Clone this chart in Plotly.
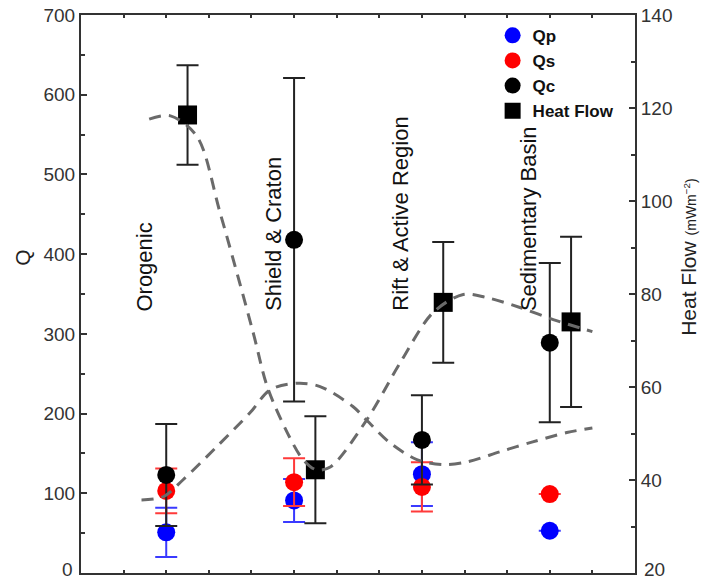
import plotly.graph_objects as go

NAN = float("nan")

# Category positions (x on a 0-13 axis)
regions = ["Orogenic", "Shield & Craton", "Rift & Active Region", "Sedimentary Basin"]
q_x = [2, 5, 8, 11]
hf_x = [2.5, 5.5, 8.5, 11.5]
label_x = [1.5, 4.5, 7.5, 10.5]
label_y = 326

# Q values and errors
qp = [51, 91, 124, 53]
qp_err = [31, 27, 40, NAN]
qs = [103, 114, 108, 99]
qs_err = [28, 30, 31, NAN]
qc = [123, 418, 167, 289]
qc_err = [64, 203, 56, 100]

# Heat flow values and errors (mW m^-2)
hf = [118.5, 42.2, 78.2, 74.0]
hf_err = [10.7, 11.5, 13.0, 18.3]

# Dashed trend curves, heat-flow axis units
curveA_x = [1.6, 2.1, 2.72, 3.26, 4.04, 4.37, 4.84, 5.21, 5.52, 5.85, 6.71, 7.49, 8.26, 8.97, 9.53, 10.3, 11.08, 12.0]
curveA_y = [117.6, 118.3, 113.9, 97.6, 71.7, 60.1, 50.2, 44.4, 42.2, 42.8, 53.0, 65.2, 76.0, 79.9, 79.2, 77.1, 74.5, 71.9]
curveB_x = [1.42, 1.93, 2.39, 3.19, 3.97, 4.44, 5.07, 5.61, 6.38, 6.71, 7.25, 7.88, 8.5, 9.06, 9.84, 10.6, 11.4, 12.0]
curveB_y = [35.7, 36.4, 40.0, 47.2, 54.5, 59.4, 60.8, 60.1, 55.8, 52.8, 48.0, 44.4, 43.3, 43.9, 46.1, 48.2, 50.2, 51.2]

FONT = "Liberation Sans, Arial, Helvetica, sans-serif"
AX = "#333333"

fig = go.Figure()

def err(vals, color):
    return dict(type="data", array=vals, visible=True, color=color, thickness=2, width=11)

fig.add_trace(go.Scatter(x=q_x, y=qp, mode="markers", name="Qp",
                         marker=dict(color="#0000ff", size=18, symbol="circle"),
                         error_y=err(qp_err, "#3a3aff")))
fig.add_trace(go.Scatter(x=q_x, y=qs, mode="markers", name="Qs",
                         marker=dict(color="#ff0000", size=18, symbol="circle"),
                         error_y=err(qs_err, "#ff3a3a")))
fig.add_trace(go.Scatter(x=q_x, y=qc, mode="markers", name="Qc",
                         marker=dict(color="#000000", size=18, symbol="circle"),
                         error_y=err(qc_err, "#222222")))
fig.add_trace(go.Scatter(x=hf_x, y=hf, mode="markers", name="Heat Flow", yaxis="y2",
                         marker=dict(color="#000000", size=19, symbol="square"),
                         error_y=err(hf_err, "#222222")))

for cx, cy in ((curveA_x, curveA_y), (curveB_x, curveB_y)):
    fig.add_trace(go.Scatter(x=cx, y=cy, mode="lines", yaxis="y2", showlegend=False,
                             line=dict(color="#6a6a6a", width=3, dash="12px,8px",
                                       shape="spline", smoothing=0.9),
                             hoverinfo="skip"))

annotations = []
for name, lx in zip(regions, label_x):
    annotations.append(dict(x=lx, y=label_y, xref="x", yref="y", text=name,
                            textangle=-90, showarrow=False, xanchor="center",
                            yanchor="bottom", font=dict(family=FONT, size=22, color="#111")))
annotations.append(dict(x=-0.13, y=0.566, xref="paper", yref="paper", text="Q",
                        showarrow=False, textangle=-90,
                        font=dict(family=FONT, size=21, color="#222")))
annotations.append(dict(x=1.122, y=0.565, xref="paper", yref="paper",
                        text="Heat Flow <span style='font-size:14px'>(mWm<sup>−2</sup>)</span>",
                        showarrow=False, textangle=-90,
                        font=dict(family=FONT, size=21, color="#222")))
# bottom-end tick labels (plotly hides them at the axis corner)
annotations.append(dict(x=-0.011, y=0, xref="paper", yref="y", text="0", showarrow=False,
                        xanchor="right", yanchor="bottom", yshift=-9,
                        font=dict(family=FONT, size=19, color="#333")))
annotations.append(dict(x=1.0126, y=20, xref="paper", yref="y2", text="20", showarrow=False,
                        xanchor="left", yanchor="bottom", yshift=-9,
                        font=dict(family=FONT, size=19, color="#333")))

fig.update_layout(
    width=704, height=582, autosize=False,
    margin=dict(l=81, r=69, t=15, b=9, autoexpand=False),
    paper_bgcolor="white", plot_bgcolor="white",
    font=dict(family=FONT, size=19, color=AX),
    showlegend=True,
    legend=dict(x=0.743, y=0.995, xanchor="left", yanchor="top",
                bgcolor="rgba(0,0,0,0)",
                font=dict(family=FONT, size=17, color="#111", weight="bold"),
                itemsizing="trace", tracegroupgap=0),
    annotations=annotations,
    xaxis=dict(range=[0, 13], showgrid=False, zeroline=False, showline=True,
               linecolor=AX, linewidth=2, mirror="ticks", ticks="inside",
               tickvals=list(range(1, 13)), ticklen=3, tickwidth=1.5, tickcolor=AX,
               showticklabels=False, automargin=False),
    yaxis=dict(range=[0, 700], showgrid=False, zeroline=False, showline=True,
               linecolor=AX, linewidth=2, ticks="inside", dtick=100, ticklen=6,
               tickwidth=1.5, tickcolor=AX, automargin=False,
               minor=dict(dtick=50, ticks="inside", ticklen=4, tickcolor=AX, showgrid=False),
               tickfont=dict(family=FONT, size=19, color="#333")),
    yaxis2=dict(range=[20, 140], overlaying="y", side="right", showgrid=False,
                zeroline=False, showline=True, linecolor=AX, linewidth=2, automargin=False,
                ticks="inside", dtick=20, ticklen=6, tickwidth=1.5, tickcolor=AX,
                minor=dict(dtick=10, ticks="inside", ticklen=4, tickcolor=AX, showgrid=False),
                tickfont=dict(family=FONT, size=19, color="#333")),
)

fig.write_html("out.html", config={"displayModeBar": False})

# remove default page margin so the figure sits at the window origin
with open("out.html", "r", encoding="utf-8") as f:
    html = f.read()
html = html.replace("<head>", "<head><style>html,body{margin:0;padding:0;overflow:hidden}</style>", 1)
with open("out.html", "w", encoding="utf-8") as f:
    f.write(html)
